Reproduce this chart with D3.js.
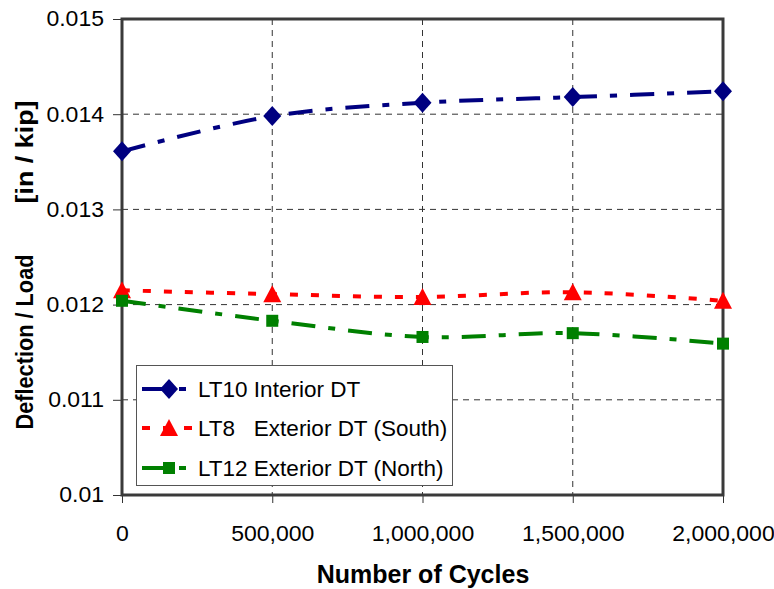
<!DOCTYPE html>
<html>
<head>
<meta charset="utf-8">
<script src="https://cdn.jsdelivr.net/npm/d3@7"></script>
<style>
  html, body { margin: 0; padding: 0; background: #fff; }
  svg { display: block; }
  text { font-family: "Liberation Sans", Arial, sans-serif; fill: #000; }
</style>
</head>
<body>
<svg id="chart" width="774" height="589"></svg>
<script>
const cycles = [0, 500000, 1000000, 1500000, 2000000];
const xTickLabels = ["0", "500,000", "1,000,000", "1,500,000", "2,000,000"];
const yTicks = [0.01, 0.011, 0.012, 0.013, 0.014, 0.015];
const yTickLabels = ["0.01", "0.011", "0.012", "0.013", "0.014", "0.015"];
const lt10 = [0.01361, 0.01398, 0.01412, 0.01418, 0.01424];
const lt8 = [0.01215, 0.01211, 0.01208, 0.01213, 0.01204];
const lt12 = [0.01204, 0.01183, 0.01166, 0.01170, 0.01159];
const seriesNames = ["LT10 Interior DT", "LT8\u00a0\u00a0\u00a0Exterior DT (South)", "LT12 Exterior DT (North)"];

const series = [
  { name: seriesNames[0], values: lt10, color: "#000080", dash: "24,13,7,13", marker: "diamond" },
  { name: seriesNames[1], values: lt8, color: "#FF0000", dash: "8,13", marker: "triangle" },
  { name: seriesNames[2], values: lt12, color: "#008000", dash: "24,13,7,13", marker: "square" }
];

const svg = d3.select("#chart");
const L = 122, R = 723, T = 19, B = 495;

const x = d3.scaleLinear().domain([0, 2000000]).range([L, R]);
const y = d3.scaleLinear().domain([0.01, 0.015]).range([B, T]);

// gridlines
const grid = svg.append("g");
grid.selectAll("line.h").data(yTicks.slice(1, -1)).enter().append("line")
  .attr("x1", L).attr("x2", R).attr("y1", d => y(d)).attr("y2", d => y(d))
  .attr("stroke", "#333").attr("stroke-width", 1).attr("stroke-dasharray", "6,5");
grid.selectAll("line.v").data(cycles.slice(1, -1)).enter().append("line")
  .attr("y1", T).attr("y2", B).attr("x1", d => x(d)).attr("x2", d => x(d))
  .attr("stroke", "#333").attr("stroke-width", 1).attr("stroke-dasharray", "6,5");

// axes
const yAxis = d3.axisLeft(y).tickValues(yTicks).tickFormat((d, i) => yTickLabels[i]).tickSize(9).tickPadding(9);
const gy = svg.append("g").attr("transform", `translate(${L},0)`).call(yAxis);
const xAxis = d3.axisBottom(x).tickValues(cycles).tickFormat((d, i) => xTickLabels[i]).tickSize(8).tickPadding(23);
const gx = svg.append("g").attr("transform", `translate(0,${B})`).call(xAxis);
[gx, gy].forEach(g => {
  g.attr("font-family", null).attr("font-size", null);
  g.select(".domain").remove();
  g.selectAll(".tick line").attr("stroke", "#333").attr("stroke-width", 1);
  g.selectAll(".tick text").style("font-family", "'Liberation Sans', Arial, sans-serif").style("font-size", "21.5px").attr("fill", "#000")
    .each(function () {
      const w = this.getComputedTextLength();
      if (w > 0) d3.select(this).attr("textLength", w * 1.07).attr("lengthAdjust", "spacingAndGlyphs");
    });
});

// plot border
svg.append("rect").attr("x", L).attr("y", T).attr("width", R - L).attr("height", B - T)
  .attr("fill", "none").attr("stroke", "#3a3a3a").attr("stroke-width", 3);

// lines
const line = d3.line().x((d, i) => x(cycles[i])).y(d => y(d)).curve(d3.curveCatmullRom.alpha(0.5));
series.forEach(s => {
  svg.append("path").datum(s.values).attr("d", line)
    .attr("fill", "none").attr("stroke", s.color).attr("stroke-width", 4)
    .attr("stroke-dasharray", s.dash);
});

function drawMarker(g, type, cx, cy, color) {
  if (type === "diamond") {
    g.append("path").attr("d", `M${cx},${cy - 10}L${cx + 9},${cy}L${cx},${cy + 10}L${cx - 9},${cy}Z`).attr("fill", color);
  } else if (type === "triangle") {
    g.append("path").attr("d", `M${cx},${cy - 9}L${cx + 9},${cy + 8}L${cx - 9},${cy + 8}Z`).attr("fill", color);
  } else {
    g.append("rect").attr("x", cx - 6).attr("y", cy - 6).attr("width", 12).attr("height", 12).attr("fill", color);
  }
}
const mg = svg.append("g");
series.forEach(s => {
  s.values.forEach((v, i) => drawMarker(mg, s.marker, x(cycles[i]), y(v), s.color));
});

// legend
const lg = svg.append("g");
lg.append("rect").attr("x", 136.5).attr("y", 365.5).attr("width", 316).attr("height", 120)
  .attr("fill", "#fff").attr("stroke", "#555").attr("stroke-width", 1);
const rowsY = [389, 428, 468];
series.forEach((s, i) => {
  const yy = rowsY[i];
  lg.append("line").attr("x1", 142).attr("x2", 196).attr("y1", yy).attr("y2", yy)
    .attr("stroke", s.color).attr("stroke-width", 4).attr("stroke-dasharray", s.dash);
  drawMarker(lg, s.marker, 169, yy, s.color);
  lg.append("text").attr("x", 198).attr("y", yy + 8).style("font-size", "22.5px").text(s.name);
});

// axis titles
svg.append("text").attr("x", 423).attr("y", 583).attr("text-anchor", "middle")
  .style("font-size", "25px").style("font-weight", "bold").text("Number of Cycles");
svg.append("text").attr("transform", "translate(33,342) rotate(-90)").attr("text-anchor", "middle")
  .style("font-size", "24px").style("font-weight", "bold").attr("textLength", 175).attr("lengthAdjust", "spacingAndGlyphs")
  .text("Deflection / Load");
svg.append("text").attr("transform", "translate(33,152) rotate(-90)").attr("text-anchor", "middle")
  .style("font-size", "24px").style("font-weight", "bold").attr("textLength", 103).attr("lengthAdjust", "spacingAndGlyphs")
  .text("[in / kip]");
</script>
</body>
</html>
